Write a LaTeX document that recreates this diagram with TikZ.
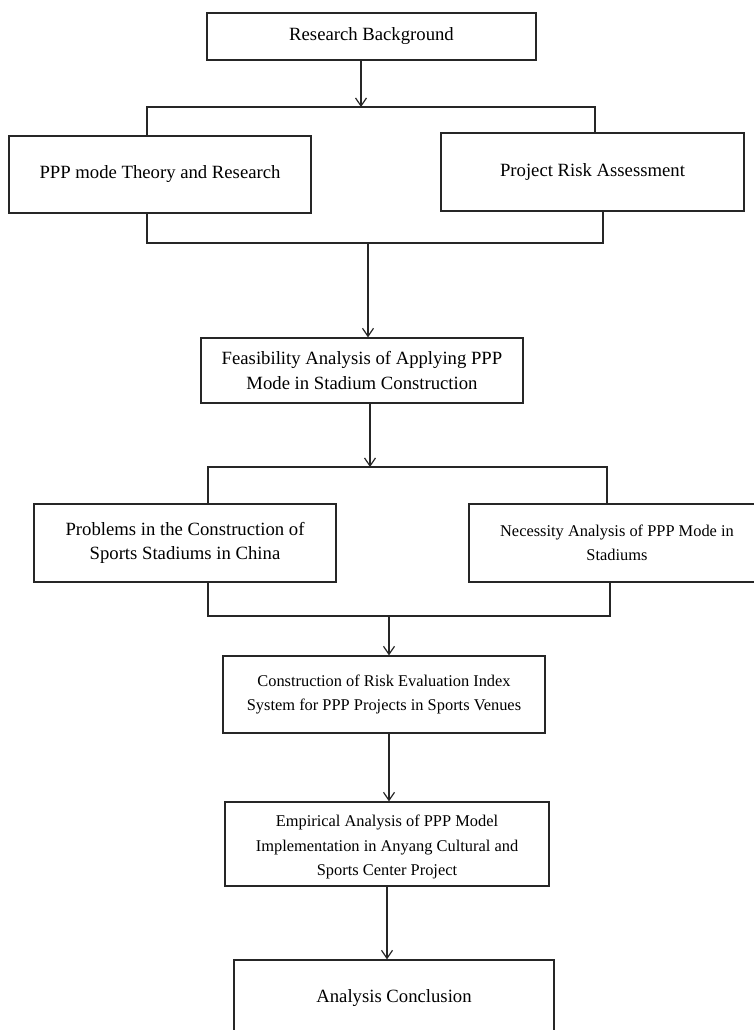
\documentclass[tikz,border=0pt]{standalone}
\usepackage{fontspec}
\setmainfont{Liberation Serif}
\usetikzlibrary{arrows.meta}
\begin{document}
\begin{tikzpicture}[x=1pt,y=-1pt,
  box/.style={draw=black!85, line width=1.3pt, fill=white, inner sep=0pt, align=center},
  bigtxt/.style={font=\fontsize{18.7}{24.5}\selectfont},
  smalltxt/.style={font=\fontsize{16.4}{24.5}\selectfont},
  conn/.style={draw=black!85, line width=1.3pt},
  arr/.style={conn, -{Straight Barb[length=8pt,width=11pt,line width=1.2pt]}}
]
\useasboundingbox (0,0) rectangle (754,1030);
% boxes
\node[box,bigtxt,minimum width=329pt,minimum height=47pt] (rb) at (371.5,36.5) {Research Background};
\node[box,bigtxt,minimum width=302pt,minimum height=77pt] (ppp) at (160,174.5) {PPP mode Theory and Research};
\node[box,bigtxt,minimum width=303pt,minimum height=78pt] (pra) at (592.5,172) {Project Risk Assessment};
\node[box,bigtxt,minimum width=322pt,minimum height=65pt] (fea) at (362,370.5) {Feasibility Analysis of Applying PPP\\Mode in Stadium Construction};
\node[box,bigtxt,minimum width=302pt,minimum height=78pt] (prob) at (185,543) {Problems in the Construction of\\Sports Stadiums in China};
\node[box,smalltxt,minimum width=296pt,minimum height=78pt] (nec) at (617,543) {Necessity Analysis of PPP Mode in\\Stadiums};
\node[box,smalltxt,minimum width=322pt,minimum height=77pt] (con) at (384,694.5) {Construction of Risk Evaluation Index\\System for PPP Projects in Sports Venues};
\node[box,smalltxt,minimum width=324pt,minimum height=84pt] (emp) at (387,844) {\rule{0pt}{18pt}Empirical Analysis of PPP Model\\Implementation in Anyang Cultural and\\Sports Center Project};
\node[box,bigtxt,minimum width=320pt,minimum height=76pt] (ac) at (394,998) {Analysis Conclusion};
% junction coordinates
\coordinate (j1) at (361,107);
\coordinate (l1) at (147,107);
\coordinate (r1) at (595,107);
\coordinate (l2) at (147,243);
\coordinate (r2) at (603,243);
\coordinate (j2) at (368,243);
\coordinate (j3) at (370,467);
\coordinate (l3) at (208,467);
\coordinate (r3) at (607,467);
\coordinate (l4) at (208,616);
\coordinate (r4) at (610,616);
\coordinate (j4) at (389,616);
\coordinate (j5) at (387,960);
% connectors
\draw[arr] (rb.south -| j1) -- (j1);
\draw[conn] (ppp.north -| l1) -- (l1) -- (r1) -- (pra.north -| r1);
\draw[conn] (ppp.south -| l2) -- (l2) -- (r2) -- (pra.south -| r2);
\draw[arr] (j2) -- (fea.north -| j2);
\draw[arr] (fea.south -| j3) -- (j3);
\draw[conn] (prob.north -| l3) -- (l3) -- (r3) -- (nec.north -| r3);
\draw[conn] (prob.south -| l4) -- (l4) -- (r4) -- (nec.south -| r4);
\draw[arr] (j4) -- (con.north -| j4);
\draw[arr] (con.south -| j4) -- (emp.north -| j4);
\draw[arr] (emp.south -| j5) -- (ac.north -| j5);
\end{tikzpicture}
\end{document}
